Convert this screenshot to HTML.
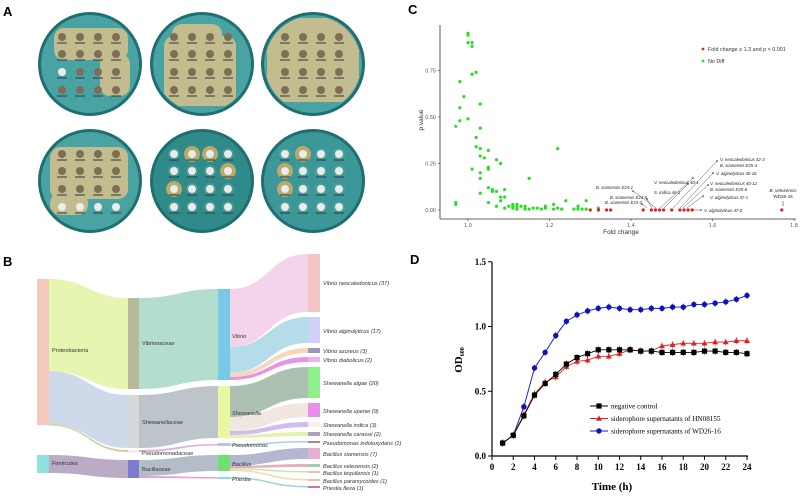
<!DOCTYPE html>
<html><head><meta charset="utf-8"><style>
body{margin:0;background:#fff;width:800px;height:496px;overflow:hidden;font-family:"Liberation Sans",sans-serif}
svg{position:absolute;left:0;top:0}
</style></head><body>
<svg id="fig" width="800" height="496" viewBox="0 0 800 496">
<defs id="defs"></defs>
<text x="3" y="16" font-size="13" font-weight="bold">A</text>
<text x="3" y="266" font-size="13" font-weight="bold">B</text>
<text x="408" y="14" font-size="13" font-weight="bold">C</text>
<text x="410" y="264" font-size="13" font-weight="bold">D</text>
<g id="plates"></g>
<g id="sankey"></g>
<g id="volcano"></g>
<g id="growth"></g>
</svg>
<script>
const NS="http://www.w3.org/2000/svg";
function mk(parent,tag,attrs,text){const e=document.createElementNS(NS,tag);for(const k in attrs)e.setAttribute(k,attrs[k]);if(text!==undefined)e.textContent=text;parent.appendChild(e);return e;}

/* ---------- Panel A plates ---------- */
const plates=document.getElementById('plates');
const defs=document.getElementById('defs');
const plateCenters=[[90,64,'#4aa3a3',1],[202,64,'#4aa3a3',1],[313,64,'#4aa3a3',1],[90,181,'#4aa3a3',1],[202,181,'#2f8a8a',0],[313,181,'#3c9898',0]];
const halos=[[[-36,-36,74,32],[10,-10,30,42]],[[-38,-28,72,70],[-30,-40,50,20]],[[-46,-46,92,84]],[[-40,-34,78,52],[-40,12,38,22]],[],[]];
plateCenters.forEach((p,i)=>{
  const cp=mk(defs,'clipPath',{id:'pc'+i});
  mk(cp,'circle',{cx:p[0],cy:p[1],r:48});
  const g=mk(plates,'g',{});
  
  
  mk(g,'circle',{cx:p[0],cy:p[1],r:52,fill:'#1f6f70'});
  mk(g,'circle',{cx:p[0],cy:p[1],r:49,fill:p[2]});
  if(p[3]){const hg=mk(g,'g',{'clip-path':'url(#pc'+i+')'});
    halos[i].forEach(h=>mk(hg,'rect',{x:p[0]+h[0],y:p[1]+h[1],width:h[2],height:h[3],rx:10,fill:'#c2bc8e'}));}
  const xs=[-28,-10,8,26],ys=[-27,-10,8,26];
  ys.forEach((dy,r)=>xs.forEach((dx,c)=>{
    const cx=p[0]+dx,cy=p[1]+dy;
    if(p[3]){
      const white=(i===0&&r===2&&c===0)||(i===3&&r===3);
      mk(g,'circle',{cx,cy,r:4,fill:white?'#e8eee8':'#7d6e55'});
    }else{
      if((i===4&&((r===0&&(c===1||c===2))||(r===1&&c===3)||(r===2&&c===0)))||(i===5&&((r===0&&c===1)||(r===1&&c===0)||(r===2&&c===0))))
        mk(g,'circle',{cx,cy,r:8,fill:'#b9aa6a'});
      else mk(g,'circle',{cx,cy,r:6,fill:'#5aa39a',opacity:0.6});
      mk(g,'circle',{cx,cy,r:4,fill:'#e8ecea'});
    }
    mk(g,'line',{x1:cx-5,y1:cy+6,x2:cx+5,y2:cy+6,stroke:'#2a3a40','stroke-width':1});
  }));
});

/* ---------- Panel B sankey ---------- */
const sk=document.getElementById('sankey');
function link(x0,a0,b0,x1,a1,b1,col,name){
  const m=(x0+x1)/2;
  const e=mk(sk,'path',{d:`M${x0},${a0} C${m},${a0} ${m},${a1} ${x1},${a1} L${x1},${b1} C${m},${b1} ${m},${b0} ${x0},${b0} Z`,fill:col,opacity:0.85});
  
  
}
link(49,279,371,128,298,389,'#e2f4a2','flow-proteo-vibrionaceae');
link(49,371,424,128,395,448,'#c6d4e6','flow-proteo-shewanellaceae');
link(49,424,425.5,128,450,452,'#c8c890','flow-proteo-pseudomonadaceae');
link(49,455,473,128,460,478,'#b09cba','flow-firmicutes-bacillaceae');
link(139,298,389,218,289,380,'#a6d8c6','flow-vibrionaceae-vibrio');
link(139,395,448,218,386,438,'#b2bbc2','flow-shewanellaceae-shewanella');
link(139,450,452,218,444,445.5,'#d8a0d0','flow-pseudomonadaceae-pseudomonas');
link(139,460,476,218,455,471,'#a6b2be','flow-bacillaceae-bacillus');
link(139,476,478,218,477,478.5,'#e090d0','flow-bacillaceae-priestia');
link(230,289,347,308,254,312,'#f2cce6','flow-vibrio-neocaledonicus');
link(230,347,373,308,317,343,'#a9d6e6','flow-vibrio-alginolyticus');
link(230,373,377,308,348,353,'#f4d0b0','flow-vibrio-azureus');
link(230,377,380,308,357,362,'#e080e0','flow-vibrio-diabolicus');
link(230,386,417,308,367,398,'#9fb6a6','flow-shewanella-algae');
link(230,417,431,308,403,417,'#efe2da','flow-shewanella-upenei');
link(230,431,435,308,422,427,'#c8b0f0','flow-shewanella-indica');
link(230,435,438,308,432,436,'#e0f0a0','flow-shewanella-carassii');
link(230,444,445.5,308,441,442.5,'#90d0c0','flow-pseudomonas-indoloxydans');
link(230,455,466,308,448,459,'#a8aac8','flow-bacillus-siamensis');
link(230,466,468,308,464,467,'#e0a0b0','flow-bacillus-velezensis');
link(230,468,469.5,308,471,472.5,'#c0e0a0','flow-bacillus-tequilensis');
link(230,469.5,471,308,479,480.5,'#f0d0a0','flow-bacillus-paramycoides');
link(230,477,478.5,308,486,487.5,'#80d0d0','flow-priestia-flexa');
const nodes=[
 [37,279,12,146,'#f5c8bc','Proteobacteria',52,352,0],
 [37,455,12,18,'#90e0e0','Firmicutes',52,465,0],
 [128,298,11,91,'#b8b89a','Vibrionaceae',142,345,0],
 [128,395,11,53,'#d8d8d8','Shewanellaceae',142,424,0],
 [128,450,11,3,'#eeeeee','Pseudomonadaceae',142,455,0],
 [128,460,11,18,'#7c7cd0','Bacillaceae',142,471,0],
 [218,289,12,91,'#78c8e8','Vibrio',232,338,1],
 [218,386,12,52,'#e8f8a0','Shewanella',232,415,1],
 [218,443,12,3,'#c0c0e0','Pseudomonas',232,447,1],
 [218,455,12,16,'#70e070','Bacillus',232,466,1],
 [218,477,12,2,'#80e0e0','Priestia',232,481,1],
 [308,254,12,58,'#f4c4c4','Vibrio neocaledonicus (37)',323,285,1],
 [308,317,12,26,'#d0d0f8','Vibrio alginolyticus (17)',323,333,1],
 [308,348,12,5,'#9898b8','Vibrio azureus (3)',323,353,1],
 [308,357,12,5,'#f0b0f0','Vibrio diabolicus (2)',323,362,1],
 [308,367,12,31,'#90f090','Shewanella algae (20)',323,385,1],
 [308,403,12,14,'#e890e8','Shewanella upenei (9)',323,413,1],
 [308,422,12,5,'#f8f0e8','Shewanella indica (3)',323,427,1],
 [308,432,12,4,'#b0a0c0','Shewanella carassii (2)',323,436,1],
 [308,441,12,2,'#c08080','Pseudomonas indoloxydans (1)',323,445,1],
 [308,448,12,11,'#e8b0d0','Bacillus siamensis (7)',323,456,1],
 [308,464,12,3,'#a0d0b0','Bacillus velezensis (2)',323,468,1],
 [308,471,12,2,'#e8c0a0','Bacillus tequilensis (1)',323,475,1],
 [308,479,12,2,'#f0c0a0','Bacillus paramycoides (1)',323,483,1],
 [308,486,12,2,'#d070b0','Priestia flexa (1)',323,490,1]];
nodes.forEach(n=>{
  const r=mk(sk,'rect',{x:n[0],y:n[1],width:n[2],height:n[3],fill:n[4]});
  
  
  const t=mk(sk,'text',{x:n[6],y:n[7],'font-size':5.6,fill:'#333','font-style':n[8]?'italic':'normal'},n[5]);
  
  
});

/* ---------- Panel C scatter ---------- */
const greenFC=[0.97,0.97,0.97,0.98,0.98,0.98,0.99,1.0,1.0,1.0,1.0,1.01,1.01,1.01,1.01,1.02,1.02,1.02,1.03,1.03,1.03,1.03,1.03,1.03,1.03,1.04,1.05,1.05,1.05,1.05,1.05,1.06,1.06,1.07,1.07,1.07,1.08,1.08,1.08,1.09,1.09,1.09,1.1,1.11,1.11,1.11,1.12,1.12,1.12,1.13,1.14,1.14,1.15,1.15,1.16,1.17,1.18,1.19,1.19,1.21,1.21,1.22,1.22,1.23,1.24,1.26,1.27,1.27,1.28,1.29,1.29,1.32];
const greenP=[0.45,0.04,0.03,0.69,0.55,0.48,0.61,0.95,0.94,0.90,0.49,0.90,0.88,0.73,0.22,0.74,0.39,0.34,0.57,0.44,0.33,0.29,0.20,0.17,0.09,0.28,0.32,0.23,0.22,0.12,0.04,0.11,0.10,0.27,0.10,0.02,0.25,0.07,0.05,0.11,0.07,0.01,0.02,0.03,0.02,0.01,0.03,0.02,0.005,0.02,0.02,0.005,0.17,0.005,0.01,0.01,0.005,0.02,0.01,0.03,0.005,0.33,0.01,0.005,0.05,0.005,0.02,0.005,0.005,0.05,0.005,0.01];
const redFC=[1.3,1.32,1.34,1.35,1.43,1.45,1.46,1.47,1.48,1.5,1.52,1.53,1.54,1.55,1.77];
const redP=[0,0,0,0,0,0,0,0,0,0,0,0,0,0,0];
const cXTicks=[1.0,1.2,1.4,1.6,1.8];
const cYTicks=[0,0.25,0.5,0.75];
const cYLabels=['0.00','0.25','0.50','0.75'];
const cx=v=>468+(v-1.0)*407.5, cy=v=>210-v*186;
const vg=document.getElementById('volcano');
mk(vg,'line',{x1:440,y1:25,x2:440,y2:219,stroke:'#333','stroke-width':0.8});
mk(vg,'line',{x1:440,y1:219,x2:796,y2:219,stroke:'#333','stroke-width':0.8});
cXTicks.forEach(v=>{mk(vg,'line',{x1:cx(v),y1:219,x2:cx(v),y2:221,stroke:'#333','stroke-width':0.6});
 const t=mk(vg,'text',{x:cx(v),y:227,'font-size':5.5,fill:'#555','text-anchor':'middle'},v.toFixed(1));
 
 });
cYTicks.forEach((v,i)=>{mk(vg,'line',{x1:438,y1:cy(v),x2:440,y2:cy(v),stroke:'#333','stroke-width':0.6});
 const t=mk(vg,'text',{x:436,y:cy(v)+2,'font-size':5.5,fill:'#555','text-anchor':'end'},cYLabels[i]);
 
 });
mk(vg,'text',{x:621,y:234,'font-size':6.5,fill:'#333','text-anchor':'middle',},'Fold change');
mk(vg,'text',{x:0,y:0,'font-size':6.5,fill:'#333','text-anchor':'middle',transform:'translate(423,120) rotate(-90)',},'p value');
greenFC.forEach((v,i)=>{const d=mk(vg,'circle',{cx:cx(v),cy:cy(greenP[i]),r:1.6,fill:'#22e022'});
 
 });
redFC.forEach((v,i)=>{const d=mk(vg,'circle',{cx:cx(v),cy:cy(redP[i]),r:1.6,fill:'#e02020'});
 
 });
mk(vg,'circle',{cx:703,cy:49,r:1.4,fill:'#e02020',});
mk(vg,'text',{x:708,y:51,'font-size':5.4,fill:'#333',},'Fold change ≥ 1.3 and p < 0.001');
mk(vg,'circle',{cx:703,cy:61,r:1.4,fill:'#22e022',});
mk(vg,'text',{x:708,y:63,'font-size':5.4,fill:'#333',},'No Diff');
const ann=[
 ['B. siamensis E24-1',633,189,'end',633,191,656,208],
 ['B. siamensis E24-5',647,199,'end',647,199,652,208],
 ['B. siamensis E23-2',642,204,'end',642,204,647,208],
 ['V. neocaledonicus 40-1',654,184,'start',693,178,660,208],
 ['S. indica 46-1',654,194,'start',688,184,664,208],
 ['V. neocaledonicus 42-3',720,161,'start',717,161,673,208],
 ['B. siamensis E25-4',720,167,'start',null],
 ['V. alginolyticus 40-16',716,175,'start',713,173,680,208],
 ['V. neocaledonicus 40-12',710,185,'start',708,185,683,208],
 ['B. siamensis E25-6',710,191,'start',null],
 ['V. alginolyticus 47-1',710,199,'start',703,196,687,208],
 ['V. alginolyticus 47-0',704,212,'start',701,210,692,210]];
ann.forEach(a=>{
  const t=mk(vg,'text',{x:a[1],y:a[2],'font-size':4.3,fill:'#222','font-style':'italic','text-anchor':a[3]},a[0]);
  
  
  if(a[4]!==null){mk(vg,'line',{x1:a[4],y1:a[5],x2:a[6],y2:a[7],stroke:'#222','stroke-width':0.4});
    mk(vg,'circle',{cx:a[4],cy:a[5],r:0.8,fill:'#222'});}
});
mk(vg,'text',{x:783,y:192,'font-size':4.6,fill:'#222','text-anchor':'middle','font-style':'italic'},'B. velezensis');
mk(vg,'text',{x:783,y:198,'font-size':4.6,fill:'#222','text-anchor':'middle'},'WD26-16');
mk(vg,'line',{x1:783,y1:206,x2:783,y2:201,stroke:'#222','stroke-width':0.5});

/* ---------- Panel D growth curves ---------- */
const hours=[1,2,3,4,5,6,7,8,9,10,11,12,13,14,15,16,17,18,19,20,21,22,23,24];
const controlOD=[0.10,0.16,0.31,0.47,0.56,0.63,0.71,0.76,0.79,0.82,0.82,0.82,0.82,0.81,0.81,0.80,0.80,0.80,0.80,0.81,0.81,0.80,0.80,0.79];
const hn08155OD=[0.10,0.16,0.32,0.48,0.57,0.61,0.69,0.73,0.74,0.77,0.77,0.79,0.82,0.81,0.81,0.85,0.86,0.87,0.87,0.87,0.88,0.88,0.89,0.89];
const wd2616OD=[0.10,0.16,0.38,0.68,0.80,0.93,1.04,1.09,1.12,1.14,1.15,1.14,1.13,1.13,1.14,1.14,1.15,1.15,1.17,1.17,1.18,1.19,1.21,1.24];
const dXTicks=[0,2,4,6,8,10,12,14,16,18,20,22,24];
const dYTicks=[0,0.5,1.0,1.5];
const dx=v=>492+v*10.625, dy=v=>456-v*129.5;
const gg=document.getElementById('growth');
const serif='"Liberation Serif",serif';
mk(gg,'line',{x1:492,y1:262,x2:492,y2:456,stroke:'#000','stroke-width':1.2});
mk(gg,'line',{x1:492,y1:456,x2:748,y2:456,stroke:'#000','stroke-width':1.2});
dXTicks.forEach(v=>{mk(gg,'line',{x1:dx(v),y1:456,x2:dx(v),y2:460,stroke:'#000','stroke-width':1});
 const t=mk(gg,'text',{x:dx(v),y:470,'font-size':9,'font-weight':'bold','font-family':serif,'text-anchor':'middle'},String(v));
 
 });
dYTicks.forEach(v=>{mk(gg,'line',{x1:488,y1:dy(v),x2:492,y2:dy(v),stroke:'#000','stroke-width':1});
 const t=mk(gg,'text',{x:486,y:dy(v)+3,'font-size':9,'font-weight':'bold','font-family':serif,'text-anchor':'end'},v.toFixed(1));
 
 });
mk(gg,'text',{x:612,y:490,'font-size':11,'font-weight':'bold','font-family':serif,'text-anchor':'middle',},'Time (h)');
const yl=mk(gg,'text',{transform:'translate(462,360) rotate(-90)','font-size':11,'font-weight':'bold','font-family':serif,'text-anchor':'middle',},'OD');
mk(yl,'tspan',{'font-size':6,dy:2},'600');
function marker(g,type,x,y,col){
  if(type==='sq') return mk(g,'rect',{x:x-2.6,y:y-2.6,width:5.2,height:5.2,fill:col});
  if(type==='tri') return mk(g,'polygon',{points:`${x},${y-3} ${x-3},${y+2.2} ${x+3},${y+2.2}`,fill:col});
  return mk(g,'circle',{cx:x,cy:y,r:2.7,fill:col});
}
const series=[[controlOD,'#000','sq','control'],[hn08155OD,'#e02020','tri','hn08155'],[wd2616OD,'#1010c0','ci','wd26-16']];
[series[2],series[1],series[0]].forEach(s=>{
  const pl=mk(gg,'polyline',{points:hours.map((h,i)=>dx(h)+','+dy(s[0][i])).join(' '),fill:'none',stroke:s[1],'stroke-width':0.9});
  
  
  hours.forEach((h,i)=>{
    mk(gg,'line',{x1:dx(h),y1:dy(s[0][i])-3.5,x2:dx(h),y2:dy(s[0][i])+3.5,stroke:s[1],'stroke-width':0.6});
    const m=marker(gg,s[2],dx(h),dy(s[0][i]),s[1]);
    
    
  });
});
const legItems=[['negative control','#000','sq'],['siderophore supernatants of HN08155','#e02020','tri'],['siderophore supernatants of WD26-16','#1010c0','ci']];
legItems.forEach((l,i)=>{
  const y=406+i*12.5;
  mk(gg,'line',{x1:590,y1:y,x2:608,y2:y,stroke:l[1],'stroke-width':0.9});
  marker(gg,l[2],599,y,l[1]);
  const t=mk(gg,'text',{x:611,y:y+2.5,'font-size':7.2,'font-family':serif},l[0]);
  
  
});
</script>
</body></html>
